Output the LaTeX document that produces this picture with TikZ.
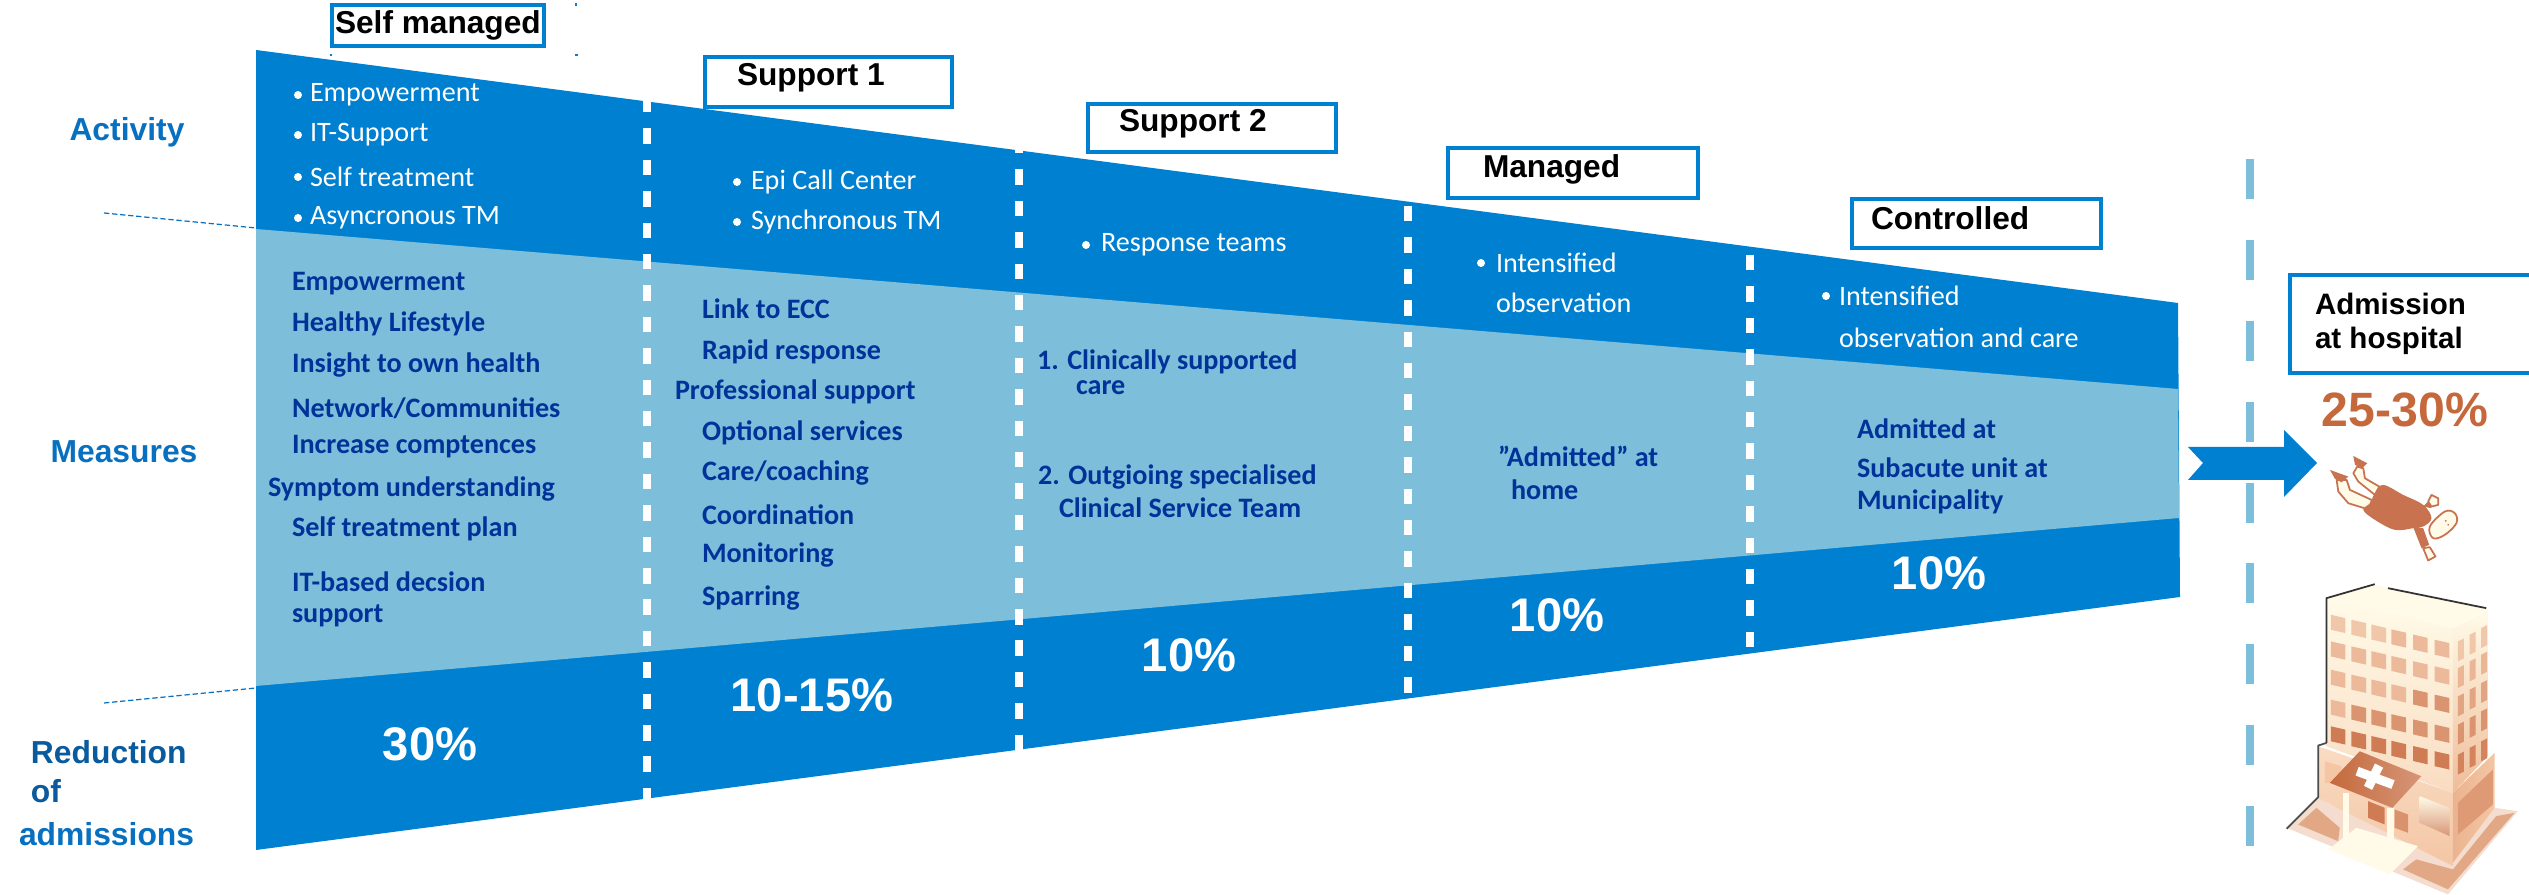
\documentclass[tikz,border=0pt]{standalone}
\usepackage{fontspec}
\setmainfont{Carlito}
\newfontfamily\arialf{Liberation Sans}
\newfontfamily\carlf{Carlito}
\definecolor{band}{HTML}{0080D0}
\definecolor{lite}{HTML}{7DBEDA}
\definecolor{navy}{HTML}{00339A}
\definecolor{lab}{HTML}{0870C0}
\definecolor{lab2}{HTML}{0A5A9E}
\definecolor{rust}{HTML}{C5693D}
\definecolor{hcream}{HTML}{FFFBE8}
\definecolor{hpeach}{HTML}{F9DCC2}
\definecolor{hside}{HTML}{F4C6A4}
\definecolor{hwinl}{HTML}{F5CFB2}
\definecolor{hwind}{HTML}{CF7C54}
\definecolor{hbush}{HTML}{E2A784}
\definecolor{pbody}{HTML}{C87250}
\tikzset{
 x=0.01cm,y=-0.01cm,
 every node/.style={inner sep=0pt,outer sep=0pt},
 tw/.style={anchor=west,text=white,font=\carlf\fontsize{8}{9}\selectfont},
 tb/.style={anchor=west,text=navy,font=\carlf\bfseries\fontsize{8}{9}\selectfont},
 pct/.style={text=white,font=\arialf\bfseries\fontsize{13.4}{15}\selectfont},
 sidelab/.style={text=lab,font=\arialf\bfseries\fontsize{9.05}{11}\selectfont},
 sidelabb/.style={anchor=west,text=lab2,font=\arialf\bfseries\fontsize{9.05}{11}\selectfont},
 stagebox/.style={draw=band,line width=1pt,fill=white,anchor=north west},
 stagetext/.style={anchor=west,text=black,font=\arialf\bfseries\fontsize{9}{10}\selectfont},
 bul/.style={circle,fill=white,minimum size=8*0.01cm},
 whitedash/.style={draw=white,line width=2.4pt,dash pattern=on 4.4pt off 4.53pt},
 tealdash/.style={draw=lite,line width=2.3pt,dash pattern=on 11.4pt off 11.6pt},
 finedash/.style={draw=lab,line width=0.35pt,dash pattern=on 1.5pt off 0.8pt},
 limb/.style={fill=hcream,draw=pbody,line width=0.5pt,line join=round},
}
\begin{document}
\begin{tikzpicture}
\useasboundingbox (0,0) rectangle (2529,895);
% funnel
\fill[band] (256,50) -- (2178,303) -- (2180,597) -- (256,850) -- cycle;
\fill[lite] (256,229) -- (2178,389) -- (2179,518) -- (256,686) -- cycle;
% white dashed
\foreach \n/\px/\ya/\yb in {a/647/97/800,b/1019/138/750,c/1408/206/698,d/1750/255/652}{
  \coordinate (wt\n) at (\px,\ya);
  \coordinate (wb\n) at (\px,\yb);
  \draw[whitedash] (wt\n) -- (wb\n);
}
% thin dashes
\coordinate (tl1) at (104,213); \coordinate (tr1) at (256,228);
\coordinate (tl2) at (104,703); \coordinate (tr2) at (256,688);
\draw[finedash] (tl1) -- (tr1);
\draw[finedash] (tl2) -- (tr2);
% teal dashed
\coordinate (ta) at (2250,159); \coordinate (tb) at (2250,846);
\draw[tealdash] (ta) -- (tb);
% arrow
\fill[band] (2188,447) -- (2284,447) -- (2284,430) -- (2317,463) -- (2284,497) -- (2284,480) -- (2188,480) -- (2203,463) -- cycle;
% specks
\fill[band] (575,3) rectangle (577,6);
\fill[band] (330,54) rectangle (332,56);
\fill[band] (575,54) rectangle (578,56);
% stage boxes
\node[stagebox,line width=1.4pt,minimum width=212*0.01cm,minimum height=41*0.01cm] (bx1) at (332,5) {};
\node[stagetext] (s1) at (335,25) {Self managed};
\node[stagebox,minimum width=247*0.01cm,minimum height=50*0.01cm] (bx2) at (705,57) {};
\node[stagetext] (s2) at (737,78) {Support 1};
\node[stagebox,minimum width=248*0.01cm,minimum height=48*0.01cm] (bx3) at (1088,104) {};
\node[stagetext] (s3) at (1119,124) {Support 2};
\node[stagebox,minimum width=250*0.01cm,minimum height=50*0.01cm] (bx4) at (1448,148) {};
\node[stagetext] (s4) at (1483,169) {Managed};
\node[stagebox,minimum width=249*0.01cm,minimum height=49*0.01cm] (bx5) at (1852,199) {};
\node[stagetext] (s5) at (1871,218) {Controlled};
\node[stagebox,minimum width=250*0.01cm,minimum height=98*0.01cm] (bx6) at (2290,275) {};
\node[stagetext,font=\arialf\bfseries\fontsize{8.4}{9.7}\selectfont,align=left] (s6) at (2315,324) {Admission\\at hospital};
\node[text=rust,font=\arialf\bfseries\fontsize{13.7}{16}\selectfont] (rate) at (2405,410) {25-30\%};
% left labels
\node[sidelab] (lact) at (127,132) {Activity};
\node[sidelab] (lmea) at (124,452) {Measures};
\node[sidelabb] (lre1) at (31,752) {Reduction};
\node[sidelabb] (lre2) at (31,791) {of};
\node[sidelabb,text=lab] (lre3) at (19,834) {admissions};
% bullets
\foreach \n/\bx/\tx/\yy/\txt in {
 a/298/310/95/Empowerment,
 b/298/310/135/IT-Support,
 c/298/310/177/Self treatment,
 d/298/310/218/Asyncronous TM,
 e/737/751/182/Epi Call Center,
 f/737/751/222/Synchronous TM,
 g/1086/1101/245/Response teams,
 h/1481/1496/263/Intensified,
 j/1826/1839/296/Intensified}{
  \node[bul] (bu\n) at (\bx,\yy) {};
  \node[tw] (ac\n) at (\tx,\yy) {\txt};
}
\node[tw] (ack) at (1496,303) {observation};
\node[tw] (acl) at (1839,338) {observation and care};
% measures
\foreach \n/\tx/\yy/\txt in {
 a/292/284/Empowerment,
 b/292/324/Healthy Lifestyle,
 c/292/365/Insight to own health,
 d/292/408/{Network/Communities},
 e/292/447/Increase comptences,
 f/268/489/Symptom understanding,
 g/292/529/Self treatment plan,
 h/292/582/IT-based decsion,
 i/292/616/support,
 j/702/309/Link to ECC,
 k/702/352/Rapid response,
 l/675/392/Professional support,
 m/702/433/Optional services,
 n/702/473/{Care/coaching},
 o/702/515/Coordination,
 p/702/555/Monitoring,
 q/702/598/Sparring,
 r/1037/362/1. Clinically supported,
 s/1076/388/care,
 t/1038/477/2. Outgioing specialised,
 u/1059/508/Clinical Service Team,
 v/1498/456/”Admitted” at,
 w/1511/490/home,
 x/1857/429/Admitted at,
 y/1857/468/Subacute unit at,
 z/1857/502/Municipality}{
  \node[tb] (me\n) at (\tx,\yy) {\txt};
}
% percentages
\node[pct] (p1) at (430,744) {30\%};
\node[pct] (p2) at (812,695) {10-15\%};
\node[pct] (p3) at (1189,655) {10\%};
\node[pct] (p4) at (1557,615) {10\%};
\node[pct] (p5) at (1939,573) {10\%};
% person
\begin{scope}[shift={(2320,440)},x=0.00333cm,y=-0.00333cm]
 \draw[limb] (112,80) -- (130,85) -- (135,115) -- (178,140) -- (165,165) -- (115,125) -- (100,100) -- cycle;
 \draw[limb] (50,120) -- (80,120) -- (90,150) -- (155,180) -- (150,210) -- (85,190) -- (55,155) -- cycle;
 \fill[pbody] (100,48) -- (142,70) -- (125,86) -- (105,74) -- cycle;
 \fill[pbody] (30,90) -- (85,110) -- (65,127) -- (45,117) -- cycle;
 \fill[pbody] (310,200) -- (330,180) -- (335,205) -- cycle;
 \draw[limb] (335,165) -- (355,175) -- (355,195) -- (335,200) -- (325,185) -- cycle;
 \fill[pbody] plot[smooth cycle,tension=0.6] coordinates {(190,135) (250,165) (310,195) (335,235) (310,260) (280,265) (225,270) (165,240) (130,210) (150,190) (165,160)};
 \draw[limb] plot[smooth cycle,tension=0.6] coordinates {(330,260) (375,215) (405,220) (410,250) (375,285) (340,295)};
 \fill[pbody] (378,243) circle (3); \fill[pbody] (385,255) circle (3);
 \fill[pbody] (280,262) -- (310,265) -- (328,315) -- (305,325) -- cycle;
 \draw[limb] (310,325) -- (330,322) -- (347,350) -- (325,362) -- cycle;
\end{scope}
% hospital
\begin{scope}[shift={(2200,500)},x=0.00333cm,y=-0.00333cm,line join=round]
 \fill[hbush!40] (260,985) -- (355,895) -- (885,925) -- (955,935) -- (745,1185) -- cycle;
 \fill[hbush] (295,975) -- (350,925) -- (420,985) -- (415,1025) -- cycle;
 \fill[hbush] (610,1110) -- (650,1080) -- (760,1110) -- (890,950) -- (945,940) -- (745,1170) -- cycle;
 \shade[top color=hcream,bottom color=hpeach] (380,295) -- (760,385) -- (760,880) -- (380,740) -- cycle;
 \shade[top color=hcream,bottom color=hside!90!rust] (760,385) -- (865,330) -- (865,770) -- (760,880) -- cycle;
 \fill[hcream] (380,295) -- (525,255) -- (865,325) -- (760,385) -- cycle;
 \shade[top color=hpeach,bottom color=hside] (355,740) -- (760,880) -- (760,1100) -- (355,895) -- cycle;
 \shade[left color=hside!80!rust,right color=hside] (760,880) -- (885,760) -- (885,925) -- (760,1090) -- cycle;
 % front windows
 \foreach \c/\wx in {0/393,1/455,2/515,3/575,4/640,5/705}{
  \foreach \r/\wy in {0/345,1/425,2/510,3/600,4/680}{
   \pgfmathsetmacro{\ya}{\wy+(\wx-393)*0.24}
   \pgfmathsetmacro{\yb}{\ya+45}
   \pgfmathsetmacro{\xb}{\wx+44}
   \pgfmathsetmacro{\mixi}{ifthenelse(\r==4,100,ifthenelse(\r==3 && \c>0,70,ifthenelse(\r==2 && \c>3,70,ifthenelse(\r==0 && \c<3,10,25))))}
   \fill[hwind!\mixi!hwinl] (\wx,\ya) -- (\xb,\ya+10) -- (\xb,\yb+10) -- (\wx,\yb) -- cycle;
  }
 }
 % side windows
 \foreach \wx/\dy in {775/0,810/-20,845/-40}{
  \foreach \r/\wy in {0/425,1/505,2/590,3/675,4/765}{
   \pgfmathsetmacro{\ya}{\wy+\dy}
   \pgfmathsetmacro{\yb}{\ya+60}
   \pgfmathsetmacro{\xb}{\wx+18}
   \pgfmathsetmacro{\mixi}{20*\r+10}
   \fill[hwind!\mixi!hwinl] (\wx,\ya) -- (\xb,\ya-9) -- (\xb,\yb-9) -- (\wx,\yb) -- cycle;
  }
 }
 % base details
 \fill[hwind!60!hside] (775,910) -- (880,810) -- (880,915) -- (775,1005) -- cycle;
 \shade[top color=hcream,bottom color=hwind!80] (660,890) -- (750,925) -- (750,1010) -- (660,970) -- cycle;
 \fill[hside] (375,785) -- (425,800) -- (425,850) -- (375,850) -- cycle;
 % porch
 \fill[hcream] (385,1050) -- (470,985) -- (655,1040) -- (570,1125) -- cycle;
 \fill[hwind] (505,905) -- (555,925) -- (555,975) -- (505,955) -- cycle;
 \fill[hwind!70!hside] (585,930) -- (625,945) -- (625,1000) -- (585,985) -- cycle;
 \fill[hcream] (430,880) rectangle (447,1015);
 \fill[hcream] (563,925) rectangle (582,1065);
 \shade[left color=rust,right color=rust!70] (390,850) -- (480,755) -- (665,830) -- (578,925) -- cycle;
 \draw[white,line width=2.6pt] (472,815) -- (580,855);
 \draw[white,line width=2.6pt] (505,865) -- (538,798);
 % outline
 \draw[black!80,line width=0.5pt] (380,730) -- (380,295) -- (525,253);
 \draw[black!80,line width=0.5pt] (565,265) -- (860,325);
 \draw[black!70,line width=0.5pt] (380,730) -- (355,738) -- (355,893) -- (260,988);
\end{scope}
\end{tikzpicture}
\end{document}
